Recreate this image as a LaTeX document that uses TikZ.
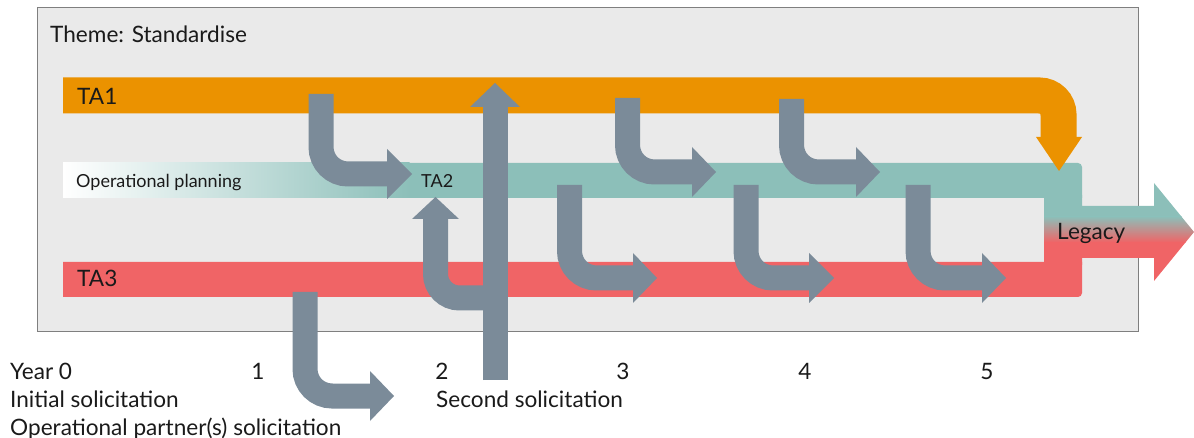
\documentclass[tikz,border=0pt]{standalone}
\usepackage{fontspec}
\setmainfont{Lato}
\usepackage{tikz}

\definecolor{boxgrey}{HTML}{EAEAEA}
\definecolor{boxline}{HTML}{7F7F7F}
\definecolor{taorange}{HTML}{EB9200}
\definecolor{tateal}{HTML}{8CBFB9}
\definecolor{tared}{HTML}{F06466}
\definecolor{slate}{HTML}{7B8B99}
\definecolor{ink}{HTML}{1A1A1A}

\begin{document}
\begin{tikzpicture}%
        [x=1pt, y=-1pt,
        frame/.style={fill=boxgrey, draw=boxline, line width=1pt},
        flow/.style={draw=slate, line width=25pt, rounded corners=27pt},
        head/.style={fill=slate},
        lbl/.style={anchor=base west, inner sep=0pt, text=ink, font=\fontsize{22.6}{27}\selectfont},
        smalllbl/.style={lbl, font=\fontsize{18}{22}\selectfont}]
    \useasboundingbox (0,0) rectangle (1194,438);
    %
    %% Theme box
    \draw[frame] (37,8) rectangle (1138,331);
    %%
    %% Drawing the bars
    %%
    \shade[left color=white, right color=tateal] (63,163) rectangle (409.5,198);
    \fill[tateal] (409,163) -- (1078,163) arc[start angle=-90, end angle=0, radius=4] -- (1082,198) -- (409,198) -- cycle;
    \fill[tared] (63,262) -- (1082,262) -- (1082,293) arc[start angle=0, end angle=90, radius=4] -- (63,297) -- cycle;
    %% Legacy arrow
    \begin{scope}
        \clip (1044,195) -- (1082,195) -- (1082,206) -- (1154,206) -- (1154,183) -- (1194,232) -- (1154,281) -- (1154,258) -- (1082,258) -- (1082,265) -- (1044,265) -- cycle;
        \fill[tateal] (1040,180) rectangle (1194,217);
        \shade[top color=tateal, bottom color=tared] (1040,216.5) rectangle (1194,242.5);
        \fill[tared] (1040,242) rectangle (1194,285);
    \end{scope}
    %% TA1 bar turning down
    \draw[draw=taorange, line width=36pt, rounded corners=19pt] (63,95.5) -- (1058.5,95.5) -- (1058.5,138);
    \fill[taorange] (1036,137) -- (1082,137) -- (1059,171) -- cycle;
    %%
    %% Transfers between the bars
    %%
    \draw[flow] (321,94) -- (321,174) -- (388,174);
    \fill[head] (387,149) -- (412,174) -- (387,199) -- cycle;
    \draw[flow] (627.5,98) -- (627.5,172) -- (693,172);
    \fill[head] (692,147) -- (716,172) -- (692,197) -- cycle;
    \draw[flow] (791.5,99) -- (791.5,172) -- (857,172);
    \fill[head] (856,147) -- (880,172) -- (856,197) -- cycle;
    \draw[flow] (569.5,185) -- (569.5,278) -- (634,278);
    \fill[head] (633,253) -- (657,278) -- (633,303) -- cycle;
    \draw[flow] (746,185) -- (746,278) -- (810,278);
    \fill[head] (809,253) -- (834,278) -- (809,303) -- cycle;
    \draw[flow] (918,185) -- (918,278) -- (983,278);
    \fill[head] (982,253) -- (1006,278) -- (982,303) -- cycle;
    %% Solicitations
    \draw[flow] (305,292) -- (305,396) -- (371,396);
    \fill[head] (370,371) -- (394,396) -- (370,421) -- cycle;
    \draw[flow, rounded corners=24pt] (496,298) -- (435.5,298) -- (435.5,218);
    \fill[head] (412,219) -- (435.5,197) -- (459,219) -- cycle;
    \draw[flow] (495,380) -- (495,106);
    \fill[head] (470,107) -- (495,83) -- (520,107) -- cycle;
    %%
    %% Labels
    %%
    \node[lbl] (theme) at (50,43) {Theme: Standardise};
    \node[lbl] (ta1) at (77,105) {TA1};
    \node[smalllbl] (opplan) at (76,188) {Operational planning};
    \node[smalllbl] (ta2) at (421,188) {TA2};
    \node[lbl] (ta3) at (77,287) {TA3};
    \node[lbl] (legacy) at (1057,240) {Legacy};
    \node[lbl] (year0) at (10,379) {Year 0};
    \foreach \n/\xx in {1/258,2/442,3/623,4/805,5/987}
        \node[lbl, anchor=base] (year\n) at (\xx,379) {\n};
    \node[lbl] (initsol) at (10,407) {Initial solicitation};
    \node[lbl] (secondsol) at (436,407) {Second solicitation};
    \node[lbl] (partnersol) at (10,435) {Operational partner(s) solicitation};
\end{tikzpicture}
\end{document}
